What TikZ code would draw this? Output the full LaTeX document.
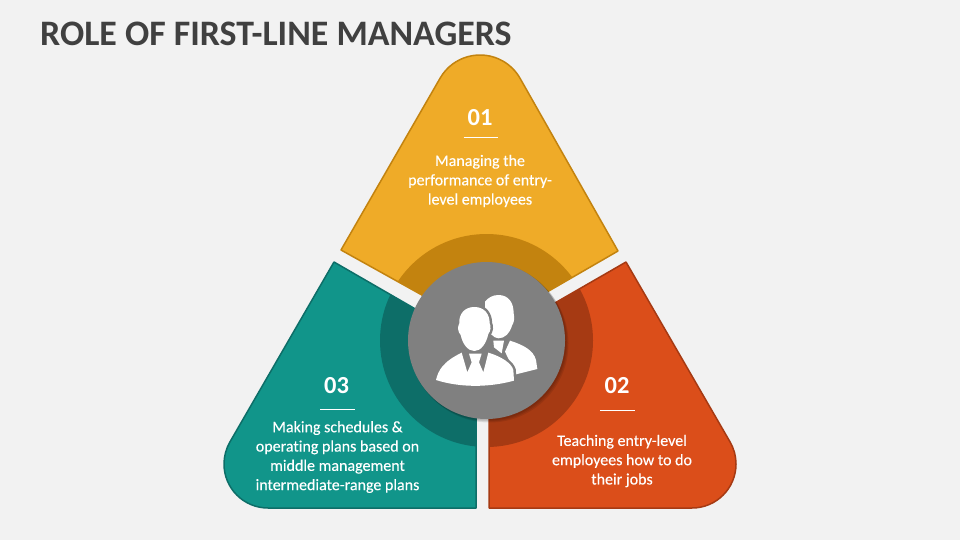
\documentclass[tikz,border=0pt]{standalone}
\usepackage{fontspec}
\setmainfont{Carlito}[Ligatures=NoCommon]
\newfontfamily\bodyfont{Carlito}[Ligatures=NoCommon,FakeBold=0.25]
\definecolor{bgc}{HTML}{F2F2F2}
\definecolor{yel}{HTML}{EFAB28}
\definecolor{yeld}{HTML}{C3830F}
\definecolor{tea}{HTML}{11958A}
\definecolor{tead}{HTML}{0D6E68}
\definecolor{org}{HTML}{DB4E1A}
\definecolor{orgd}{HTML}{A63A13}
\definecolor{gry}{HTML}{808080}
\definecolor{ttl}{HTML}{404040}
\tikzset{
  txt/.style={text=white,font=\bodyfont\fontsize{16}{19.3}\selectfont,align=center,inner sep=0pt},
  num/.style={text=white,font=\fontsize{24.5}{26}\selectfont\bfseries,inner sep=0pt},
  rulew/.style={white,line width=0.7pt},
}
\newcommand{\yelpath}{(341,250) -- (440.2,78) arc[start angle=210,end angle=330,radius=46] -- (618,251) -- (483,329) -- cycle}
\newcommand{\teapath}{(334,262) -- (476,344) -- (476,508) -- (268,508) arc[start angle=90,end angle=210,radius=44] -- cycle}
\newcommand{\orgpath}{(626,262) -- (489,341) -- (489,508) -- (692,508) arc[start angle=90,end angle=-30,radius=44] -- cycle}
\newcommand{\fronthead}{(133,66) .. controls (164,66) and (179,88) .. (179,115) .. controls (184,125) and (182,138) .. (175,147) .. controls (168,178) and (152,198) .. (133,198) .. controls (114,198) and (98,178) .. (92,150) .. controls (83,140) and (82,125) .. (88,115) .. controls (86,88) and (103,66) .. (133,66) -- cycle}
\newcommand{\frontbody}{(95,203) -- (112,262) -- (125,232) -- (117,206) -- (155,206) -- (147,232) -- (160,262) -- (175,203) .. controls (215,215) and (245,235) .. (250,255) -- (252,287) .. controls (175,308) and (90,308) .. (18,285) .. controls (25,255) and (40,230) .. (95,203) -- cycle}
\begin{document}
\begin{tikzpicture}[x=1pt,y=-1pt]
\useasboundingbox (0,0) rectangle (960,540);
\fill[bgc] (0,0) rectangle (960,540);
\node[anchor=west,inner sep=0pt,text=ttl,font=\fontsize{35.85}{38}\selectfont\bfseries] (title) at (40,34) {ROLE OF FIRST-LINE MANAGERS};
\fill[yel] \yelpath;
\begin{scope}\clip \yelpath; \fill[yeld] (486.5,340.5) circle[radius=106.5]; \end{scope}
\draw[yeld,line width=1.5pt,line join=round] \yelpath;
\fill[tea] \teapath;
\begin{scope}\clip \teapath; \fill[tead] (486.5,340.5) circle[radius=106.5]; \end{scope}
\draw[tead,line width=1.5pt,line join=round] \teapath;
\fill[org] \orgpath;
\begin{scope}\clip \orgpath; \fill[orgd] (486.5,340.5) circle[radius=106.5]; \end{scope}
\draw[orgd,line width=1.5pt,line join=round] \orgpath;
% soft shadow
\foreach \o in {3,2,1}{\fill[black,opacity=.09] (486.5+\o,340.5+\o) circle[radius=79];}
\fill[gry] (486.5,340.5) circle[radius=78.5];
% numbers and texts
\node[num] (n1) at (480,117.5) {01};
\draw[rulew] (463.5,137) -- (497.5,137);
\node[txt] (t1) at (480,181) {Managing the\\performance of entry-\\level employees};
\node[num] (n3) at (336.5,385.5) {03};
\draw[rulew] (320,409.5) -- (355,409.5);
\node[txt] (t3) at (337.5,457) {Making schedules \&\\operating plans based on\\middle management\\intermediate-range plans};
\node[num] (n2) at (617,385.5) {02};
\draw[rulew] (600,410) -- (635,410);
\node[txt] (t2) at (622,461) {Teaching entry-level\\employees how to do\\their jobs};
% icon, coordinates of the 3x crop at (430,285)
\begin{scope}[shift={(430,285)},x=0.3333pt,y=-0.3333pt]
\fill[white] (205,30) .. controls (235,30) and (251,52) .. (251,85) .. controls (255,100) and (251,115) .. (246,122) .. controls (239,145) and (225,160) .. (205,160) .. controls (190,160) and (175,140) .. (165,120) -- (165,50) .. controls (175,38) and (188,30) .. (205,30) -- cycle;
\fill[white] (240,167) .. controls (280,180) and (310,195) .. (318,225) -- (322,252) -- (258,268) -- (225,200) -- cycle;
\fill[white] (190,167) -- (222,167) -- (215,205) -- (192,187) -- cycle;
\fill[gry] \fronthead; \draw[gry,line width=5pt,line join=round] \fronthead;
\draw[gry,line width=5pt,line join=round] \frontbody;
\fill[white] \fronthead;
\fill[white] \frontbody;
\end{scope}
\end{tikzpicture}
\end{document}
